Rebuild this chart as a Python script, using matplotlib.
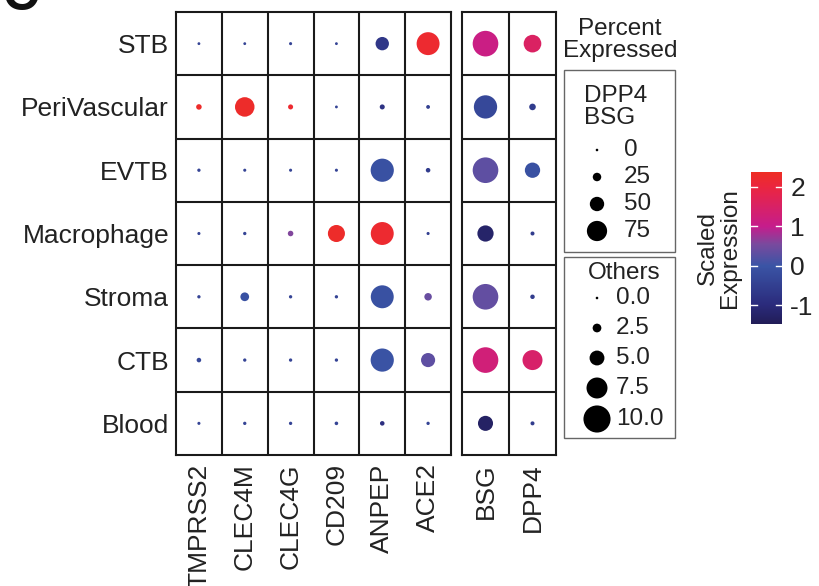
import numpy as np
import matplotlib
matplotlib.use('Agg')
import matplotlib.pyplot as plt
from matplotlib.colors import LinearSegmentedColormap, Normalize
from matplotlib.patches import Rectangle

plt.rcParams['font.family'] = ['Liberation Sans', 'DejaVu Sans']

cell_types = ['STB', 'PeriVascular', 'EVTB', 'Macrophage', 'Stroma', 'CTB', 'Blood']
genes_left = ['TMPRSS2', 'CLEC4M', 'CLEC4G', 'CD209', 'ANPEP', 'ACE2']
genes_right = ['BSG', 'DPP4']

# percent expressed (rows = cell types, cols = genes)
pct_left = [
    [0.1, 0.1, 0.2, 0.1, 4.4, 8.3],
    [1.2, 6.9, 1.0, 0.1, 1.0, 0.5],
    [0.3, 0.2, 0.2, 0.2, 8.4, 0.8],
    [0.2, 0.3, 1.2, 5.9, 8.3, 0.2],
    [0.3, 2.5, 0.3, 0.3, 8.3, 2.0],
    [0.8, 0.3, 0.3, 0.3, 8.4, 4.7],
    [0.2, 0.3, 0.3, 0.4, 0.8, 0.3],
]
# scaled expression
expr_left = [
    [-0.4, -0.4, -0.4, -0.4, -0.7, 2.2],
    [2.3, 2.3, 2.2, -0.4, -0.8, -0.5],
    [-0.4, -0.4, -0.4, -0.4, -0.1, -0.6],
    [-0.4, -0.4, 0.6, 2.3, 2.2, -0.5],
    [-0.4, -0.1, -0.4, -0.4, -0.1, 0.4],
    [-0.3, -0.4, -0.4, -0.4, -0.05, 0.3],
    [-0.4, -0.4, -0.4, -0.4, -0.9, -0.4],
]
pct_right = [
    [98, 64],
    [88, 17],
    [98, 54],
    [58, 6],
    [98, 8],
    [98, 74],
    [53, 6],
]
expr_right = [
    [1.1, 1.55],
    [-0.3, -0.6],
    [0.3, -0.1],
    [-1.25, -0.6],
    [0.35, -0.6],
    [1.25, 1.45],
    [-1.3, -0.6],
]

legend_right = [0, 25, 50, 75]
legend_left = [0.0, 2.5, 5.0, 7.5, 10.0]
cbar_ticks = [-1, 0, 1, 2]
vmin, vmax = -1.48, 2.38

cmap = LinearSegmentedColormap.from_list('scaled', [
    (0.0, '#221d57'),
    ((-1 - vmin) / (vmax - vmin), '#2b2b7c'),
    ((0 - vmin) / (vmax - vmin), '#3b55a6'),
    ((0.55 - vmin) / (vmax - vmin), '#7a4a9e'),
    ((1 - vmin) / (vmax - vmin), '#c61d8c'),
    ((2 - vmin) / (vmax - vmin), '#eb2640'),
    (1.0, '#ee2e24'),
])
norm = Normalize(vmin, vmax)

W, H = 819, 586
DPI = 100
FS_TICK = 19
FS_LEG = 17.5
TXT = '#222222'


def size_left(p):
    d = 2.6 + 2.45 * np.asarray(p, float)      # diameter in px
    return (d * 72 / DPI) ** 2


def size_right(p):
    d = 2.6 + 0.235 * np.asarray(p, float)
    return (d * 72 / DPI) ** 2


def px_axes(fig, x0, y0, x1, y1):
    return fig.add_axes([x0 / W, 1 - y1 / H, (x1 - x0) / W, (y1 - y0) / H])


def dot_panel(ax, genes, pct, expr, sizer):
    nr, nc = len(cell_types), len(genes)
    xx, yy = np.meshgrid(np.arange(nc), np.arange(nr))
    ax.scatter(xx.ravel(), yy.ravel(), s=sizer(np.array(pct).ravel()),
               c=np.array(expr).ravel(), cmap=cmap, norm=norm,
               linewidths=0, zorder=3)
    ax.set_xlim(-0.5, nc - 0.5)
    ax.set_ylim(nr - 0.5, -0.5)
    for v in np.arange(0.5, nc - 0.5):
        ax.axvline(v, color='#1a1a1a', lw=1.5)
    for v in np.arange(0.5, nr - 0.5):
        ax.axhline(v, color='#1a1a1a', lw=1.5)
    for s in ax.spines.values():
        s.set_linewidth(1.5)
        s.set_color('#1a1a1a')
    ax.set_xticks(range(nc))
    ax.set_xticklabels(genes, rotation=90, fontsize=FS_TICK, color=TXT)
    ax.tick_params(length=0, pad=6)


fig = plt.figure(figsize=(W / DPI, H / DPI), dpi=DPI)

ax1 = px_axes(fig, 176, 12, 451, 455)
dot_panel(ax1, genes_left, pct_left, expr_left, size_left)
ax1.set_yticks(range(len(cell_types)))
ax1.set_yticklabels(cell_types, fontsize=FS_TICK, color=TXT)
ax1.tick_params(axis='y', pad=5)

ax2 = px_axes(fig, 462, 12, 556, 455)
dot_panel(ax2, genes_right, pct_right, expr_right, size_right)
ax2.set_yticks([])

# panel letter, partly cut at the top
fig.text(0.004, 0.983, 'C', fontsize=36, fontweight='bold', va='baseline', color='#111111')

# size legend
lg = px_axes(fig, 556, 0, 700, 450)
lg.set_xlim(556, 700)
lg.set_ylim(450, 0)
lg.axis('off')
lg.text(620, 40, 'Percent\nExpressed', ha='center', va='center', fontsize=FS_LEG,
        linespacing=1.0, color=TXT)
for y0, y1 in [(70, 252), (257, 438)]:
    lg.add_patch(Rectangle((564, y0), 111, y1 - y0, fill=False, ec='#666666', lw=1.0))
lg.text(584, 107, 'DPP4\nBSG', ha='left', va='center', fontsize=FS_LEG, linespacing=1.0,
        color=TXT)
ys_r = [150, 177, 204, 231]
lg.scatter([597] * 4, ys_r, s=size_right(legend_right), c='black', linewidths=0)
for y, v in zip(ys_r, legend_right):
    lg.text(624, y, f'{v}', ha='left', va='center', fontsize=FS_LEG, color=TXT)
lg.text(624, 273, 'Others', ha='center', va='center', fontsize=FS_LEG, color=TXT)
ys_l = [298, 328, 358, 388, 419]
lg.scatter([597] * 5, ys_l, s=size_left(legend_left), c='black', linewidths=0)
for y, v in zip(ys_l, legend_left):
    lg.text(616, y, f'{v:.1f}', ha='left', va='center', fontsize=FS_LEG, color=TXT)

# colorbar
cax = px_axes(fig, 751, 172, 782, 324)
grad = np.linspace(vmin, vmax, 256).reshape(-1, 1)
cax.imshow(grad, aspect='auto', cmap=cmap, norm=norm, origin='lower',
           extent=[0, 1, vmin, vmax])
cax.set_xlim(0, 1)
cax.set_ylim(vmin, vmax)
for v in cbar_ticks:
    cax.plot([0, 0.2], [v, v], color='white', lw=1)
    cax.plot([0.8, 1], [v, v], color='white', lw=1)
cax.set_xticks([])
cax.yaxis.tick_right()
cax.set_yticks(cbar_ticks)
cax.set_yticklabels([str(t) for t in cbar_ticks], fontsize=FS_TICK, color=TXT)
cax.tick_params(axis='y', length=0, pad=6)
for s in cax.spines.values():
    s.set_visible(False)
fig.text(719 / W, 1 - 248 / H, 'Scaled\nExpression', rotation=90, ha='center',
         va='center', fontsize=FS_LEG, linespacing=1.0, color=TXT)

fig.savefig('out.png', dpi=DPI)
